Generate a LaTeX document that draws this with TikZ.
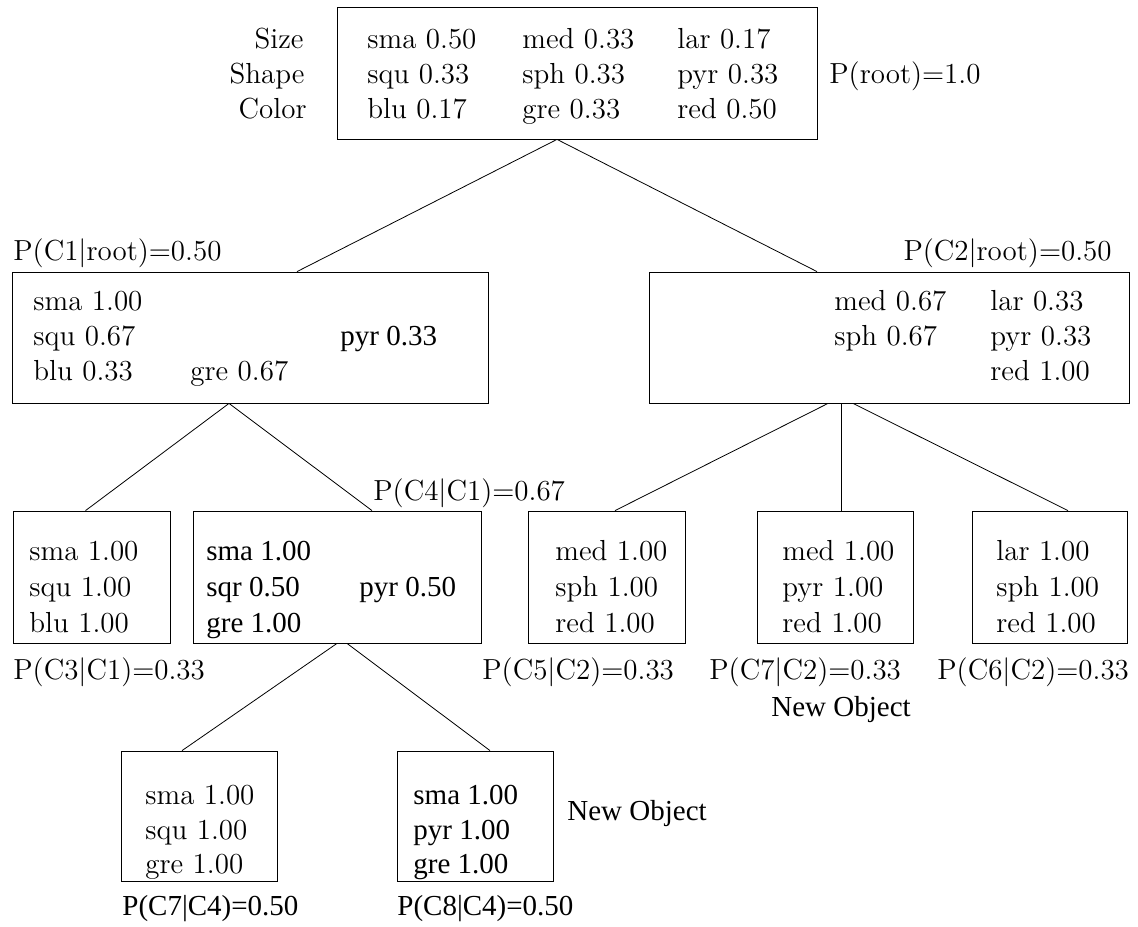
\documentclass[tikz,border=0pt]{standalone}
\usepackage{fontspec}
\newfontfamily\tms{Liberation Serif}
\usetikzlibrary{positioning}
\usetikzlibrary{calc}

\tikzset{
    box/.style={draw, thin, inner sep=0pt, minimum height=66pt},
    lmtxt/.style={anchor=base west, inner sep=0pt, font=\fontsize{14.5}{17}\selectfont},
    tmtxt/.style={anchor=base west, inner sep=0pt, font=\fontsize{14.5}{17}\selectfont\tms},
}

\begin{document}
\begin{tikzpicture}[x=0.5pt, y=-0.5pt]
            \useasboundingbox (0,0) rectangle (1138,926);

            % boxes
            \node[box, minimum width=240pt] (root) at (577,73) {};
            \node[box, minimum width=238pt, minimum height=65.5pt] (c_1) at (250,337.5) {};
            \node[box, minimum width=240pt, minimum height=65.5pt] (c_2) at (889,337.5) {};
            \node[box, minimum width=78.5pt] (c_3) at (91.5,577) {};
            \node[box, minimum width=144pt] (c_4) at (337,577) {};
            \node[box, minimum width=78.5pt] (c_5) at (606.5,577) {};
            \node[box, minimum width=78pt] (c_7_new) at (835,577) {};
            \node[box, minimum width=77.5pt] (c_6) at (1049.5,577) {};
            \node[box, minimum width=78pt, minimum height=65pt] (c_7) at (199,816) {};
            \node[box, minimum width=78pt, minimum height=65pt] (c_8) at (475,816) {};

            % root
            \node[lmtxt, anchor=base east] (size) at (304,48) {Size};
            \node[lmtxt, anchor=base east] (shape) at (305,83) {Shape};
            \node[lmtxt, anchor=base east] (color) at (307,118) {Color};
            \node[lmtxt] (root_sma) at (367,48) {sma 0.50};
            \node[lmtxt] (root_med) at (522,48) {med 0.33};
            \node[lmtxt] (root_lar) at (677,48) {lar 0.17};
            \node[lmtxt] (root_squ) at (367,83) {squ 0.33};
            \node[lmtxt] (root_sph) at (522,83) {sph 0.33};
            \node[lmtxt] (root_pyr) at (677,83) {pyr 0.33};
            \node[lmtxt] (root_blu) at (367,118) {blu 0.17};
            \node[lmtxt] (root_gre) at (522,118) {gre 0.33};
            \node[lmtxt] (root_red) at (677,118) {red 0.50};
            \node[lmtxt] (p_root) at (829,83) {P(root)=1.0};

            % level 1
            \node[lmtxt] (p_c_1) at (13,260) {P(C1|root)=0.50};
            \node[lmtxt] (c_1_sma) at (33,310) {sma 1.00};
            \node[lmtxt] (c_1_squ) at (33,345) {squ 0.67};
            \node[tmtxt] (c_1_pyr) at (340,345) {pyr 0.33};
            \node[lmtxt] (c_1_blu) at (33,380) {blu 0.33};
            \node[lmtxt] (c_1_gre) at (190,380) {gre 0.67};

            \node[lmtxt, anchor=base east] (p_c_2) at (1112,260) {P(C2|root)=0.50};
            \node[lmtxt] (c_2_med) at (834,310) {med 0.67};
            \node[lmtxt] (c_2_lar) at (990,310) {lar 0.33};
            \node[lmtxt] (c_2_sph) at (834,345) {sph 0.67};
            \node[lmtxt] (c_2_pyr) at (990,345) {pyr 0.33};
            \node[lmtxt] (c_2_red) at (990,380) {red 1.00};

            % level 2
            \node[lmtxt] (c_3_sma) at (29,560) {sma 1.00};
            \node[lmtxt] (c_3_squ) at (29,596) {squ 1.00};
            \node[lmtxt] (c_3_blu) at (29,632) {blu 1.00};
            \node[lmtxt] (p_c_3) at (13,679) {P(C3|C1)=0.33};

            \node[lmtxt] (p_c_4) at (373,500) {P(C4|C1)=0.67};
            \node[tmtxt] (c_4_sma) at (206,560) {sma 1.00};
            \node[tmtxt] (c_4_sqr) at (206,596) {sqr 0.50};
            \node[tmtxt] (c_4_pyr) at (359,596) {pyr 0.50};
            \node[tmtxt] (c_4_gre) at (206,632) {gre 1.00};

            \node[lmtxt] (c_5_med) at (555,560) {med 1.00};
            \node[lmtxt] (c_5_sph) at (555,596) {sph 1.00};
            \node[lmtxt] (c_5_red) at (555,632) {red 1.00};
            \node[lmtxt] (p_c_5) at (482,679) {P(C5|C2)=0.33};

            \node[lmtxt] (c_7_new_med) at (782,560) {med 1.00};
            \node[lmtxt] (c_7_new_pyr) at (782,596) {pyr 1.00};
            \node[lmtxt] (c_7_new_red) at (782,632) {red 1.00};
            \node[lmtxt] (p_c_7_new) at (709,679) {P(C7|C2)=0.33};
            \node[tmtxt] (new_1) at (771,716) {New Object};

            \node[lmtxt] (c_6_lar) at (996,560) {lar 1.00};
            \node[lmtxt] (c_6_sph) at (996,596) {sph 1.00};
            \node[lmtxt] (c_6_red) at (996,632) {red 1.00};
            \node[lmtxt] (p_c_6) at (937,679) {P(C6|C2)=0.33};

            % level 3
            \node[lmtxt] (c_7_sma) at (145,804) {sma 1.00};
            \node[lmtxt] (c_7_squ) at (145,839) {squ 1.00};
            \node[lmtxt] (c_7_gre) at (145,873) {gre 1.00};
            \node[tmtxt] (p_c_7) at (122,915) {P(C7|C4)=0.50};

            \node[tmtxt] (c_8_sma) at (413,804) {sma 1.00};
            \node[tmtxt] (c_8_pyr) at (413,839) {pyr 1.00};
            \node[tmtxt] (c_8_gre) at (413,873) {gre 1.00};
            \node[tmtxt] (p_c_8) at (397,915) {P(C8|C4)=0.50};
            \node[tmtxt] (new_2) at (567,820) {New Object};

            % edges
            \draw[-, thin] ([xshift=-10pt]root.south) -- ([xshift=23.5pt]c_1.north);
            \draw[-, thin] ([xshift=-10pt]root.south) -- ([xshift=-36pt]c_2.north);
            \draw[-, thin] ([xshift=-10.5pt]c_1.south) -- ([xshift=-3pt]c_3.north);
            \draw[-, thin] ([xshift=-10.5pt]c_1.south) -- ([xshift=17.5pt]c_4.north);
            \draw[-, thin] ([xshift=-30.5pt]c_2.south) -- ([xshift=4.25pt]c_5.north);
            \draw[-, thin] ([xshift=-24pt]c_2.south) -- ([xshift=3pt]c_7_new.north);
            \draw[-, thin] ([xshift=-18pt]c_2.south) -- ([xshift=9.25pt]c_6.north);
            \draw[-, thin] (c_4.south) -- ([xshift=-8.5pt]c_7.north);
            \draw[-, thin] ([xshift=5pt]c_4.south) -- ([xshift=7.5pt]c_8.north);
        \end{tikzpicture}
\end{document}
